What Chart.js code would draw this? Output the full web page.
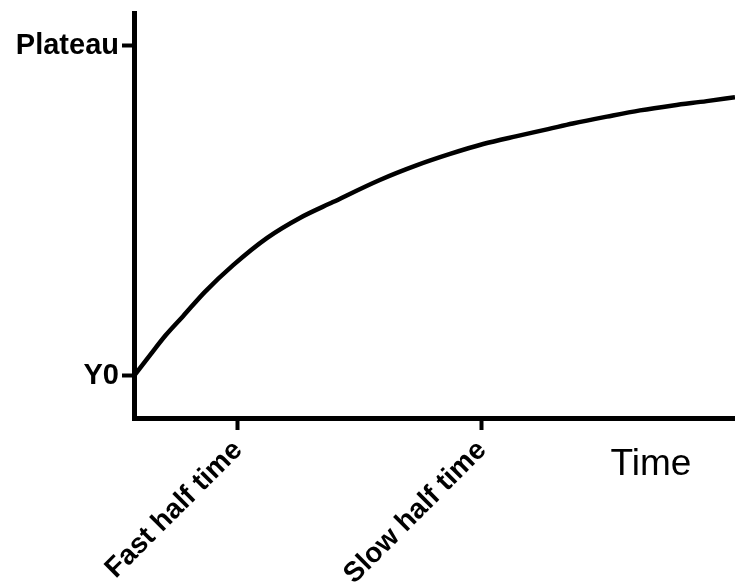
<!DOCTYPE html>
<html>
<head>
<meta charset="utf-8">
<script src="https://cdn.jsdelivr.net/npm/chart.js@4"></script>
<style>
  html, body { margin: 0; padding: 0; background: #fff; }
  canvas { display: block; }
</style>
</head>
<body>
<canvas id="chart" width="735" height="588"></canvas>
<script>
(function () {
  'use strict';

  // curve (time vs. response, Y0 = 0, Plateau = 100)
  const TIMES  = [0, 2.7, 5.3, 8.2, 11.8, 16.5, 22.1, 27.6, 33.1, 40.9, 47.1, 52.6, 58.1, 63.7, 68.9, 73.0, 78.7, 84.2, 89.7, 95.3, 100];
  const VALUES = [0, 6.4, 12.4, 18.2, 25.5, 33.6, 41.8, 47.9, 52.7, 59.4, 63.9, 67.3, 70.3, 72.7, 74.8, 76.5, 78.6, 80.5, 82.0, 83.3, 84.5];

  const X_TICKS  = [17.3, 57.9];
  const X_LABELS = ['Fast half time', 'Slow half time'];
  const Y_TICKS  = [0, 100];
  const Y_LABELS = ['Y0', 'Plateau'];
  const X_TITLE  = 'Time';

  const INK  = '#000';
  const FONT = '"Liberation Sans", Arial, sans-serif';

  const timeTitle = {
    id: 'timeTitle',
    afterDraw(chart) {
      const { ctx, scales: { x } } = chart;
      ctx.save();
      ctx.font = '37px ' + FONT;
      ctx.fillStyle = INK;
      ctx.textAlign = 'center';
      ctx.textBaseline = 'alphabetic';
      ctx.fillText(X_TITLE, x.getPixelForValue(86), 475);
      ctx.restore();
    },
  };

  const AXIS = {
    grid: {
      display: true,
      drawOnChartArea: false,
      drawTicks: true,
      tickLength: 12,
      tickWidth: 4,
      tickColor: INK,
    },
    border: { display: true, width: 5, color: INK },
  };

  new Chart(document.getElementById('chart'), {
    type: 'scatter',
    data: {
      datasets: [{
        data: TIMES.map((t, i) => ({ x: t, y: VALUES[i] })),
        showLine: true,
        borderColor: INK,
        borderWidth: 4.5,
        pointRadius: 0,
        cubicInterpolationMode: 'monotone',
        clip: false,
      }],
    },
    options: {
      responsive: false,
      animation: false,
      layout: { padding: { top: 13, right: 0, left: 0, bottom: 0 } },
      plugins: {
        legend: { display: false },
        tooltip: { enabled: false },
      },
      scales: {
        x: {
          ...AXIS,
          type: 'linear',
          min: 0,
          max: 100,
          afterFit: s => { s.height = 170; s.paddingLeft = 0; s.paddingRight = 0; },
          afterBuildTicks: s => { s.ticks = X_TICKS.map(v => ({ value: v })); },
          ticks: {
            autoSkip: false,
            minRotation: 45,
            maxRotation: 45,
            padding: 4,
            color: INK,
            font: { family: FONT, size: 28, weight: 'bold' },
            callback: v => X_LABELS[X_TICKS.indexOf(v)],
          },
        },
        y: {
          ...AXIS,
          type: 'linear',
          min: -12.73,
          max: 110,
          afterFit: s => { s.width = 134; s.paddingTop = 0; s.paddingBottom = 0; },
          afterBuildTicks: s => { s.ticks = Y_TICKS.map(v => ({ value: v })); },
          ticks: {
            autoSkip: false,
            padding: 3,
            color: INK,
            font: { family: FONT, size: 29, weight: 'bold' },
            callback: v => Y_LABELS[Y_TICKS.indexOf(v)],
          },
        },
      },
    },
    plugins: [timeTitle],
  });
})();
</script>
</body>
</html>
